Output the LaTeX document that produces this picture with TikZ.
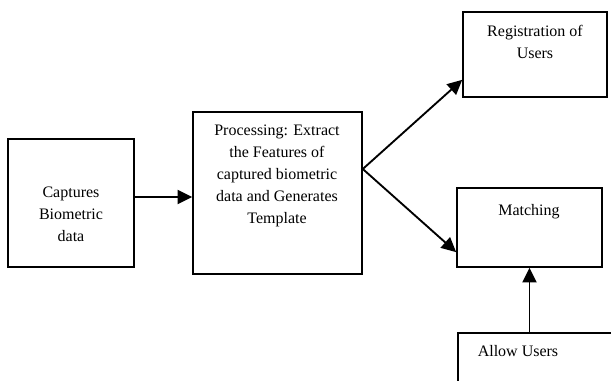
\documentclass[tikz,border=0pt]{standalone}
\usepackage{fontspec}
\setmainfont{Liberation Serif}
\usetikzlibrary{arrows.meta}

\begin{document}
\begin{tikzpicture}[x=0.75pt,y=-0.75pt,
    box/.style={draw, line width=1.2pt, inner sep=0pt},
    txt/.style={align=center, inner sep=0pt, anchor=north, font=\fontsize{12}{16.5}\selectfont},
    arr/.style={line width=1.4pt, -{Triangle[length=11pt,width=10.5pt]}}]
     \useasboundingbox (0,0) rectangle (611,381);

      % Boxes
      \node[box, minimum width=94.5pt, minimum height=96pt] (capture) at (71,203) {};
      \node[box, minimum width=126.75pt, minimum height=121.5pt] (process) at (277.5,193) {};
      \node[box, minimum width=108pt, minimum height=63.75pt] (register) at (535,54.5) {};
      \node[box, minimum width=108.75pt, minimum height=59.25pt] (match) at (529.5,227.5) {};
      \node[box, minimum width=130pt, minimum height=50pt, anchor=north west] (allow) at (457,332) {};

      % Texts
      \node[txt] (capturetxt) at (71,187) {Captures\\Biometric\\data};
      \node[txt] (processtxt) at (277,125) {Processing: Extract\\the Features of\\captured biometric\\data and Generates\\Template};
      \node[txt] (registertxt) at (535,25) {Registration of\\Users};
      \node[txt] (matchtxt) at (529,204) {Matching};
      \node[txt] (allowtxt) at (518,345) {Allow Users};

      % Arrows
      \draw[arr] ([yshift=4.5pt]capture.east) -- ([yshift=4.5pt]capture.east -| process.west);
      \coordinate (fork) at ([yshift=18pt]process.east);
      \draw[arr] (fork) -- ([yshift=-19pt]register.west);
      \draw[arr] (fork) -- ([yshift=-18.5pt]match.west);
      \draw[arr] (match.south |- allow.north) -- (match.south);
\end{tikzpicture}
\end{document}
